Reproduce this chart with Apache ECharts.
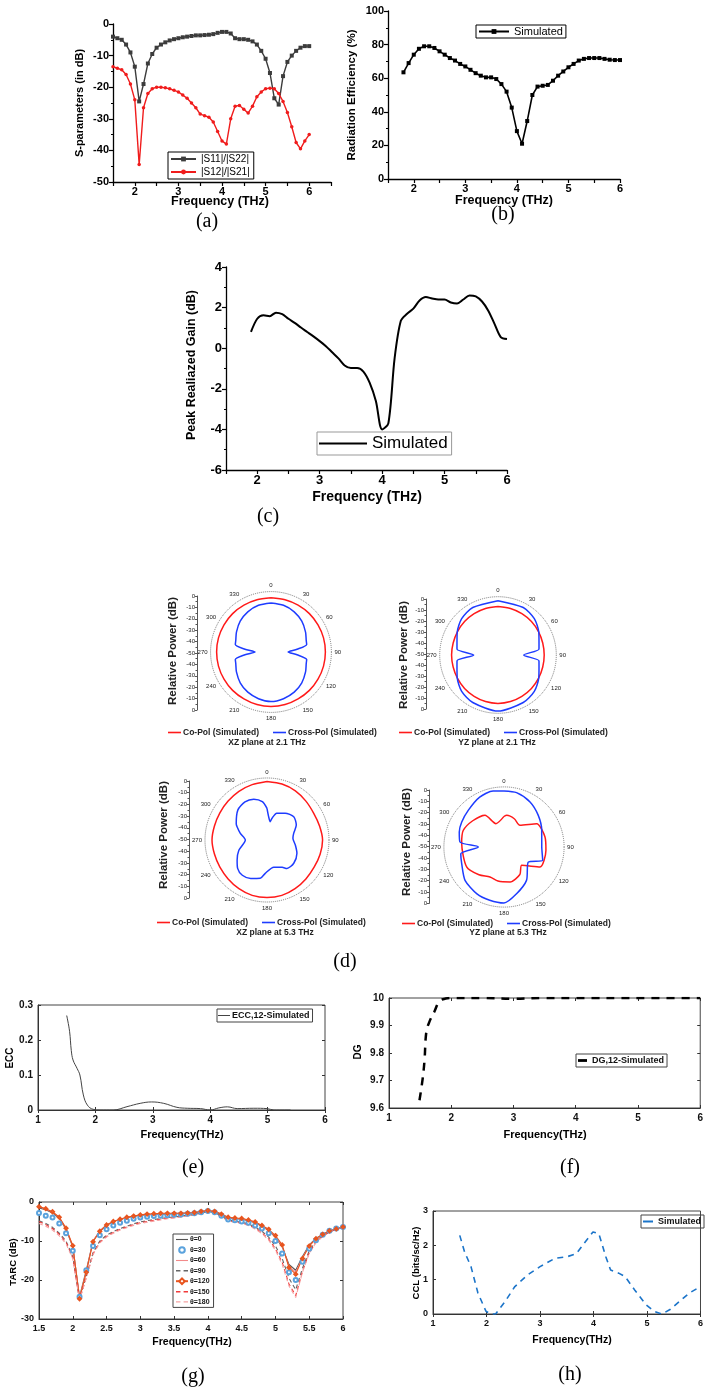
<!DOCTYPE html>
<html>
<head>
<meta charset="utf-8">
<script src="https://cdn.jsdelivr.net/npm/echarts@6/dist/echarts.min.js"></script>
<style>
html, body { margin: 0; padding: 0; background: #fff; }
#fig { width: 706px; height: 1387px; }
</style>
</head>
<body>
<div id="fig"></div>
<script>
// (a) S-parameters
const freqA = [1.5,1.6,1.7,1.8,1.9,2.0,2.1,2.2,2.3,2.4,2.5,2.6,2.7,2.8,2.9,3.0,3.1,3.2,3.3,3.4,3.5,3.6,3.7,3.8,3.9,4.0,4.1,4.2,4.3,4.4,4.5,4.6,4.7,4.8,4.9,5.0,5.1,5.2,5.3,5.4,5.5,5.6,5.7,5.8,5.9,6.0];
const s11 = [-4,-4.5,-5,-6.5,-9,-13.5,-24.5,-19,-12.5,-9.5,-7.5,-6.5,-5.8,-5.2,-4.8,-4.5,-4.2,-4,-3.8,-3.6,-3.6,-3.5,-3.4,-3.2,-2.8,-2.5,-2.5,-3,-4.5,-4.8,-4.8,-5,-5.5,-6.5,-8.5,-11,-15.5,-23.5,-25.5,-16.5,-12,-10,-8.5,-7.5,-7,-7];
const s12 = [-13.5,-14,-14.5,-16,-19,-24,-44.5,-26.5,-22,-20.5,-20,-20,-20.2,-20.5,-21,-21.5,-22.5,-23.5,-25,-26.5,-28.5,-29,-29.5,-31,-34,-37,-38,-30,-26,-25.8,-27,-28.2,-26,-23,-21.5,-20.5,-20.3,-20.5,-22,-24.5,-28,-32.5,-37.5,-39.5,-37,-35];
const ticksA = [2, 3, 4, 5, 6];

// (b) radiation efficiency
const freqB = [1.8,1.9,2.0,2.1,2.2,2.3,2.4,2.5,2.6,2.7,2.8,2.9,3.0,3.1,3.2,3.3,3.4,3.5,3.6,3.7,3.8,3.9,4.0,4.1,4.2,4.3,4.4,4.5,4.6,4.7,4.8,4.9,5.0,5.1,5.2,5.3,5.4,5.5,5.6,5.7,5.8,5.9,6.0];
const effB = [63.5,69,74,77.5,79,79,78,76,74,72,70.5,68.5,67,65,63,61.5,60.5,60.5,59.5,56.5,52,42.5,28.5,21,34.5,50,55,55.5,56,58.5,61.5,64,66.5,68.5,70.5,71.5,72,72,72,71.5,71,70.8,70.8];

// (c) peak realized gain
const freqC = [1.9,2.0,2.1,2.2,2.3,2.4,2.5,2.6,2.7,2.8,2.9,3.0,3.1,3.2,3.3,3.4,3.5,3.6,3.7,3.8,3.9,4.0,4.1,4.2,4.3,4.4,4.5,4.6,4.7,4.8,4.9,5.0,5.1,5.2,5.3,5.4,5.5,5.6,5.7,5.8,5.9,6.0];
const gainC = [0.8,1.45,1.62,1.58,1.75,1.68,1.45,1.25,1.02,0.8,0.58,0.35,0.1,-0.2,-0.5,-0.85,-0.98,-0.98,-1.15,-1.7,-2.6,-4.0,-3.7,-0.5,1.35,1.7,1.95,2.35,2.52,2.45,2.4,2.4,2.25,2.2,2.4,2.6,2.55,2.3,1.85,1.2,0.55,0.45];

// (d) radiation patterns (angle in deg, value in dB)
const angleTicks = [0,30,60,90,120,150,180,210,240,270,300,330];
const ang15 = [0,15,30,45,60,75,90,105,120,135,150,165,180,195,210,225,240,255,270,285,300,315,330,345,360];
const xz21Co = [-2.5,-2.5,-2.5,-2.4,-2.4,-2.3,-2.3,-2.3,-2.4,-2.4,-2.5,-2.3,-2.2,-2.3,-2.5,-2.4,-2.4,-2.3,-2.3,-2.3,-2.4,-2.4,-2.5,-2.5,-2.5];
const xz21CrossAng = [0,15,30,45,60,72,78,84,90,96,102,108,120,135,150,165,180,195,210,225,240,252,258,264,270,276,282,288,300,315,330,345,360];
const xz21Cross = [-7,-7.6,-9.3,-11.8,-15,-17.5,-18,-27,-35,-27,-18,-17.5,-15,-11.8,-9.3,-7.6,-6.5,-7.6,-9.3,-11.8,-15,-17.5,-18,-27,-36,-27,-18,-17.5,-15,-11.8,-9.3,-7.6,-7];
const yz21Co = [-6,-6.2,-6.6,-7,-7.5,-7.9,-8,-7.9,-7.5,-7,-6.6,-6.2,-6,-6.2,-6.6,-7,-7.5,-7.8,-7.8,-7.8,-7.5,-7,-6.6,-6.2,-6];
const yz21CrossAng = [0,28,45,61,75,82,90,98,105,119,135,152,180,208,225,241,255,262,270,278,285,299,315,332,360];
const yz21Cross = [-0.6,-1.1,-3.3,-7.6,-11.4,-12.4,-26.6,-12.4,-11.4,-7.6,-3.3,-1.1,1,-1.1,-3.3,-7.6,-11.4,-12.4,-27.9,-12.4,-11.4,-7.6,-3.3,-1.1,-0.6];
const xz53Co = [0,-0.5,-1.5,-3,-4,-3.5,-2.5,-3,-3.5,-3,-2,-1,-0.8,-1,-2,-3,-3.5,-3.5,-3,-3.5,-3.5,-3,-2,-1,0];
const xz53CrossAng = [0,4,10,13,20,34,49,63,76,86,100,114,131,145,151,166,183,190,203,215,226,236,250,270,284,294,298,316,330,342,353,360];
const xz53Cross = [-22.9,-30,-34.1,-30.9,-25.6,-22.3,-19.7,-21.9,-26.5,-27.8,-25.4,-22,-19.7,-20.3,-23.3,-26,-21.5,-16.8,-14.3,-13.2,-15.1,-19.2,-24.4,-31.5,-26.5,-22,-20.2,-14.2,-12.4,-13.4,-17,-22.9];
const yz53CoAng = [0,5,20,36,54.5,76,94.5,119,136,150,170,190,205,222,242,275.5,292,310,329,341,360];
const yz53Co = [-23,-22,-23.5,-26.2,-14.6,-12.8,-12.9,-13.7,-27.5,-22,-18.7,-19.5,-20.8,-17,-12.7,-12.5,-11.2,-14,-17.4,-28.2,-23];
const yz53CrossAng = [0,13,30,47,66,90,109,122,146,165,180,195,210,229.5,248.5,261,270,276.5,288.5,300.6,316,334,349,360];
const yz53Cross = [-0.6,-0.8,-4.1,-8.8,-13.6,-16.7,-13.9,-24.8,-14.5,-7.3,-0.6,-1.4,-2.3,-4.8,-9.9,-11.4,-27.3,-10.9,-8.4,-6.7,-4.8,-1.1,0.3,-0.6];

// (e) ECC
const eccFreq = [1.5,1.55,1.58,1.61,1.68,1.73,1.79,1.86,1.96,2.08,2.31,2.55,2.78,2.98,3.19,3.42,3.6,3.83,4.0,4.15,4.3,4.47,4.76,4.99,5.11,5.4];
const ecc = [0.27,0.225,0.17,0.143,0.119,0.1,0.043,0.014,0.002,0,0,0.0095,0.019,0.023,0.019,0.0076,0.005,0.004,0,0.006,0.009,0.004,0.005,0.004,0,0];

// (f) DG
const dgFreq = [1.49,1.54,1.57,1.6,1.65,1.73,1.81,1.91,2.02,2.5,3.0,3.5,4,5,6];
const dg = [9.628,9.705,9.772,9.877,9.914,9.951,9.988,9.998,10,10,9.997,10,10,10,10];

// (g) TARC for several theta
const tarcFreq = freqA;
const tarc0 = [-1.5,-2,-2.8,-4.2,-7,-11.5,-24.3,-17.5,-10,-7.5,-6,-5,-4.5,-4,-3.7,-3.4,-3.3,-3.2,-3.1,-3.1,-3,-3,-2.9,-2.8,-2.5,-2.3,-2.5,-3.2,-4.2,-4.3,-4.4,-4.8,-5.3,-6.2,-7.3,-9,-11.5,-16,-17.5,-14,-11,-9.3,-8.3,-7.4,-6.9,-6.4];
const tarc30 = [-2.8,-3.5,-4,-5.5,-8,-12.5,-24.3,-17.5,-11.3,-8.5,-7,-6,-5.3,-4.8,-4.3,-4,-3.8,-3.6,-3.5,-3.4,-3.3,-3.2,-3,-2.9,-2.6,-2.3,-2.6,-3.5,-4.5,-4.7,-5,-5.3,-6,-6.8,-8,-10,-13.2,-18,-20,-15.3,-12,-9.8,-8.4,-7.4,-6.8,-6.4];
const tarc60 = [-1.3,-1.8,-2.6,-4,-6.8,-11.3,-24.5,-17.8,-10,-7.4,-5.9,-5,-4.4,-4,-3.6,-3.4,-3.2,-3.1,-3,-3,-2.9,-2.9,-2.8,-2.7,-2.4,-2.2,-2.4,-3.1,-4,-4.2,-4.3,-4.7,-5.2,-6.1,-7.2,-8.8,-11.3,-16.5,-18,-14.3,-11.2,-9.4,-8.3,-7.4,-6.9,-6.4];
const tarc90 = [-4.8,-5.5,-6.5,-8,-10,-14,-25,-19,-13,-10,-8.5,-7.6,-6.8,-6.2,-5.6,-5.1,-4.8,-4.5,-4.2,-4,-3.8,-3.6,-3.4,-3.2,-2.8,-2.5,-2.7,-3.6,-4.6,-4.9,-5.2,-5.6,-6.4,-7.5,-9,-11.3,-14.5,-19.5,-22.5,-17,-12.5,-10,-8.6,-7.6,-7,-6.5];
const tarc120 = [-1.2,-1.7,-2.5,-3.9,-6.7,-11.2,-24.8,-18,-10.2,-7.5,-5.9,-5,-4.4,-3.9,-3.6,-3.3,-3.1,-3,-2.9,-2.9,-2.9,-2.9,-2.8,-2.7,-2.4,-2.2,-2.4,-3.1,-3.9,-4.1,-4.2,-4.6,-5.1,-6,-7,-8.6,-11,-16.8,-18.5,-14.5,-11.3,-9.4,-8.3,-7.4,-6.9,-6.4];
const tarc150 = [-5,-5.8,-6.8,-8.3,-10.3,-14.3,-25,-19.3,-13.3,-10.3,-8.8,-7.8,-7,-6.4,-5.8,-5.3,-5,-4.7,-4.4,-4.2,-4,-3.8,-3.5,-3.3,-2.9,-2.5,-2.8,-3.8,-4.8,-5.1,-5.4,-5.9,-6.7,-7.9,-9.5,-12,-15.5,-21,-24,-17.8,-13,-10.3,-8.8,-7.7,-7,-6.5];
const tarc180 = [-5.5,-6.2,-7.2,-8.7,-10.7,-14.6,-25.2,-19.5,-13.5,-10.5,-9,-8,-7.2,-6.6,-6,-5.5,-5.2,-4.9,-4.6,-4.3,-4.1,-3.9,-3.6,-3.4,-3,-2.6,-2.9,-3.9,-4.9,-5.2,-5.5,-6,-6.9,-8.1,-9.8,-12.4,-16,-21.5,-24.5,-18,-13.2,-10.4,-8.8,-7.7,-7,-6.5];

// (h) CCL
const cclFreq = [1.5,1.59,1.71,1.84,1.99,2.08,2.17,2.35,2.53,2.77,3.0,3.28,3.51,3.68,3.87,3.99,4.1,4.23,4.32,4.47,4.59,4.77,4.98,5.13,5.28,5.43,5.61,5.79,6.0];
const ccl = [2.29,1.81,1.38,0.61,0.08,0,0,0.37,0.8,1.14,1.38,1.62,1.67,1.76,2.15,2.39,2.34,1.67,1.28,1.19,1.09,0.7,0.27,0.08,0,0.13,0.37,0.61,0.8];

const FONT = 'Liberation Sans';
const pair = (xs, ys) => xs.map((x, i) => [x, ys[i]]);
const polarPair = (angs, vals) => angs.map((a, i) => [vals[i], a]);
const nameOnly = name => name.split('#')[0];
// legend icons drawn as thin paths (legend keeps their aspect)
const lineIcon = (w, t) => 'path://M0,0h' + w + 'v' + t + 'h-' + w + 'z';
function dashIcon(w, t, dash, gap) {
    let p = 'path://', x = 0;
    while (x < w) { const d = Math.min(dash, w - x); p += 'M' + x + ',0h' + d + 'v' + t + 'h-' + d + 'z'; x += dash + gap; }
    return p;
}

const grids = [], xAxes = [], yAxes = [], series = [], legends = [], elements = [];
const polars = [], angleAxes = [], radiusAxes = [];

function addGrid(grid, xAxis, yAxis) {
    grids.push(grid);
    const gi = grids.length - 1;
    xAxes.push(Object.assign({ gridIndex: gi }, xAxis));
    yAxes.push(Object.assign({ gridIndex: gi }, yAxis));
    return { gi: gi, xi: xAxes.length - 1, yi: yAxes.length - 1 };
}

function text(str, x, y, font, rot, color) {
    elements.push({
        type: 'text', x: x, y: y, rotation: rot || 0, silent: true,
        style: { text: str, font: font, fill: color || '#000',
            textAlign: 'center', textVerticalAlign: 'middle', align: 'center', verticalAlign: 'middle' }
    });
}

// Origin style axes (a)(b)(c)
function originAxis(min, max, interval, size, labels, minor) {
    return {
        type: 'value', min: min, max: max, interval: interval,
        axisLine: { show: true, onZero: false, lineStyle: { color: '#000', width: 1.3 } },
        axisTick: { length: 4, lineStyle: { color: '#000', width: 1.2 } },
        minorTick: { show: !!minor, splitNumber: 2, length: 2, lineStyle: { color: '#000' } },
        axisLabel: { color: '#000', fontWeight: 'bold', fontSize: size, fontFamily: FONT, margin: 4,
            formatter: v => (labels ? (labels.indexOf(v) >= 0 ? String(v) : '') : String(v)) },
        splitLine: { show: false }
    };
}

// MATLAB style axes (e)-(h)
function matAxis(min, max, interval, size) {
    return {
        type: 'value', min: min, max: max, interval: interval,
        axisLine: { show: true, onZero: false, lineStyle: { color: '#333' } },
        axisTick: { inside: true, length: 3, lineStyle: { color: '#333' } },
        axisLabel: { color: '#111', fontWeight: 'bold', fontSize: size, fontFamily: FONT, margin: 5 },
        splitLine: { show: false }
    };
}
function matMirror(gi, min, max, interval, pos, isX) {
    const ax = {
        gridIndex: gi, type: 'value', min: min, max: max, interval: interval, position: pos,
        axisLine: { show: false }, axisLabel: { show: false }, splitLine: { show: false },
        axisTick: { inside: true, length: 3, lineStyle: { color: '#333' } }
    };
    (isX ? xAxes : yAxes).push(ax);
}

// ---------- (a) ----------
let a = addGrid({ left: 113, top: 24, width: 218, height: 158 },
    originAxis(1.5, 6.5, 0.5, 11, ticksA), originAxis(-50, 0, 10, 11, null, true));
series.push({ name: '|S11|/|S22|', type: 'line', xAxisIndex: a.xi, yAxisIndex: a.yi, data: pair(freqA, s11),
    symbol: 'rect', symbolSize: 4, color: '#3c3c3c', lineStyle: { width: 1.4, color: '#3c3c3c' } });
series.push({ name: '|S12|/|S21|', type: 'line', xAxisIndex: a.xi, yAxisIndex: a.yi, data: pair(freqA, s12),
    symbol: 'circle', symbolSize: 3.5, color: '#f01c1c', lineStyle: { width: 1.4, color: '#f01c1c' } });
legends.push({ data: ['|S11|/|S22|', '|S12|/|S21|'], left: 168, top: 152, orient: 'vertical',
    itemWidth: 25, itemHeight: 6, itemGap: 3, padding: [2, 4, 2, 2], borderColor: '#000', borderWidth: 1,
    textStyle: { fontSize: 10, color: '#000', fontFamily: FONT } });
text('S-parameters (in dB)', 80, 103, 'bold 11px ' + FONT, Math.PI / 2);
text('Frequency (THz)', 220, 202, 'bold 12.5px ' + FONT);
text('(a)', 207, 222, '20px "Liberation Serif"');

// ---------- (b) ----------
let b = addGrid({ left: 388, top: 11, width: 232, height: 168 },
    originAxis(1.5, 6, 0.5, 11, ticksA), originAxis(0, 100, 20, 11, null, true));
series.push({ name: 'Simulated#b', type: 'line', xAxisIndex: b.xi, yAxisIndex: b.yi, data: pair(freqB, effB),
    symbol: 'rect', symbolSize: 4, color: '#000', lineStyle: { width: 1.6, color: '#000' } });
legends.push({ data: ['Simulated#b'], formatter: nameOnly, left: 476, top: 25,
    itemWidth: 30, itemHeight: 6, padding: [1, 3, 1, 2], borderColor: '#000', borderWidth: 1,
    textStyle: { fontSize: 11, color: '#000', fontFamily: FONT } });
text('Radiation Efficiency (%)', 352, 95, 'bold 11.5px ' + FONT, Math.PI / 2);
text('Frequency (THz)', 504, 201, 'bold 12.5px ' + FONT);
text('(b)', 503, 215, '20px "Liberation Serif"');

// ---------- (c) ----------
let c = addGrid({ left: 226, top: 267, width: 281, height: 203 },
    originAxis(1.5, 6, 0.5, 13, ticksA), originAxis(-6, 4, 2, 13, null, true));
series.push({ name: 'Simulated#c', type: 'line', xAxisIndex: c.xi, yAxisIndex: c.yi, data: pair(freqC, gainC),
    symbol: 'none', smooth: 0.3, color: '#000', lineStyle: { width: 2, color: '#000' } });
legends.push({ data: [{ name: 'Simulated#c', icon: lineIcon(48, 2.2) }], formatter: nameOnly, left: 317, top: 432,
    itemWidth: 48, itemHeight: 10, padding: [3, 4, 3, 2], borderColor: '#999', borderWidth: 1,
    textStyle: { fontSize: 17, color: '#000', fontFamily: FONT } });
text('Peak Realiazed Gain (dB)', 192, 365, 'bold 12.5px ' + FONT, Math.PI / 2);
text('Frequency (THz)', 367, 497, 'bold 14px ' + FONT);
text('(c)', 268, 517, '20px "Liberation Serif"');

// ---------- (d) polar plots ----------
const RED = '#ff1a1a', BLUE = '#1e3cff';
function polarPlot(key, cx, cy, scale, scaleTop, scaleLeft, curves, ylab, legendLeft, legendTop, title) {
    const maxDb = 3;
    polars.push({ center: [cx, cy], radius: scale * (maxDb + 50) / 50 });
    const pi = polars.length - 1;
    angleAxes.push({ polarIndex: pi, type: 'value', min: 0, max: 360, interval: 30, startAngle: 90, clockwise: true,
        axisLine: { lineStyle: { color: '#777', type: 'dotted', width: 1 } },
        axisTick: { show: false }, splitLine: { show: false },
        axisLabel: { fontSize: 6, color: '#222', margin: 3, fontFamily: FONT,
            formatter: v => (angleTicks.indexOf(v) >= 0 ? String(v) : '') } });
    radiusAxes.push({ polarIndex: pi, type: 'value', min: -50, max: maxDb,
        axisLine: { show: false }, axisTick: { show: false }, axisLabel: { show: false }, splitLine: { show: false } });
    curves.forEach(cv => {
        series.push({ name: cv.name + '#' + key, type: 'line', coordinateSystem: 'polar', polarIndex: pi,
            data: polarPair(cv.ang, cv.val), symbol: 'none', smooth: 0.25, color: cv.color,
            lineStyle: { width: 1.5, color: cv.color } });
    });
    // mirrored radial scale at the left
    addGrid({ left: scaleLeft, top: scaleTop, width: 1, height: scale * 2 },
        { type: 'value', show: false },
        { type: 'value', min: -50, max: 50, interval: 10,
          axisLine: { show: true, lineStyle: { color: '#555' } },
          axisTick: { length: 2, lineStyle: { color: '#555' } },
          minorTick: { show: true, splitNumber: 2, length: 1.5 },
          splitLine: { show: false },
          axisLabel: { fontSize: 6, color: '#222', margin: 2, fontFamily: FONT, formatter: v => String(Math.abs(v) - 50) } });
    text('Relative Power (dB)', ylab[0], ylab[1], 'bold 11.5px ' + FONT, Math.PI / 2, '#222');
    legends.push({ data: [{ name: 'Co-Pol (Simulated)#' + key, icon: lineIcon(13, 1.6) },
                          { name: 'Cross-Pol (Simulated)#' + key, icon: lineIcon(13, 1.6) }], formatter: nameOnly,
        left: legendLeft, top: legendTop, itemWidth: 13, itemHeight: 8, itemGap: 14, padding: 0,
        textStyle: { fontSize: 8.5, fontWeight: 'bold', color: '#222', fontFamily: FONT, padding: [0, 0, 0, -3] } });
    text(title[0], title[1], title[2], 'bold 8.5px ' + FONT, 0, '#222');
}
polarPlot('xz21', 271, 652, 57, 596, 197,
    [{ name: 'Co-Pol (Simulated)', ang: ang15, val: xz21Co, color: RED },
     { name: 'Cross-Pol (Simulated)', ang: xz21CrossAng, val: xz21Cross, color: BLUE }],
    [173, 651], 168, 728, ['XZ plane at 2.1 THz', 267, 743]);
polarPlot('yz21', 498, 655, 55, 599, 426,
    [{ name: 'Co-Pol (Simulated)', ang: ang15, val: yz21Co, color: RED },
     { name: 'Cross-Pol (Simulated)', ang: yz21CrossAng, val: yz21Cross, color: BLUE }],
    [404, 655], 399, 728, ['YZ plane at 2.1 THz', 497, 743]);
polarPlot('xz53', 267, 840, 58.5, 781, 189,
    [{ name: 'Co-Pol (Simulated)', ang: ang15, val: xz53Co, color: RED },
     { name: 'Cross-Pol (Simulated)', ang: xz53CrossAng, val: xz53Cross, color: BLUE }],
    [164, 835], 157, 918, ['XZ plane at 5.3 THz', 275, 933]);
polarPlot('yz53', 504, 847, 56.7, 790, 429,
    [{ name: 'Co-Pol (Simulated)', ang: yz53CoAng, val: yz53Co, color: RED },
     { name: 'Cross-Pol (Simulated)', ang: yz53CrossAng, val: yz53Cross, color: BLUE }],
    [407, 842], 402, 919, ['YZ plane at 5.3 THz', 508, 933]);
text('(d)', 345, 962, '20px "Liberation Serif"');

// ---------- (e) ECC ----------
let e = addGrid({ left: 38, top: 1005, width: 287, height: 105, show: true, borderColor: '#444', borderWidth: 1 },
    matAxis(1, 6, 1, 10), matAxis(0, 0.3, 0.1, 10));
matMirror(e.gi, 1, 6, 1, 'top', true); matMirror(e.gi, 0, 0.3, 0.1, 'right', false);
series.push({ name: 'ECC,12-Simulated', type: 'line', xAxisIndex: e.xi, yAxisIndex: e.yi, data: pair(eccFreq, ecc),
    symbol: 'none', smooth: 0.4, color: '#444', lineStyle: { width: 1, color: '#444' } });
legends.push({ data: [{ name: 'ECC,12-Simulated', icon: lineIcon(12, 1) }], left: 217, top: 1009, itemWidth: 12, itemHeight: 6,
    padding: [2, 3, 2, 1], borderColor: '#444', borderWidth: 1,
    textStyle: { fontSize: 9, fontWeight: 'bold', color: '#111', fontFamily: FONT, padding: [0, 0, 0, -3] } });
text('ECC', 10, 1058, 'bold 10px ' + FONT, Math.PI / 2);
text('Frequency(THz)', 182, 1135, 'bold 11px ' + FONT);
text('(e)', 193, 1168, '20px "Liberation Serif"');

// ---------- (f) DG ----------
let f = addGrid({ left: 389, top: 998, width: 314, height: 110, show: true, borderColor: '#444', borderWidth: 1 },
    matAxis(1, 6, 1, 10), matAxis(9.6, 10, 0.1, 10));
matMirror(f.gi, 1, 6, 1, 'top', true); matMirror(f.gi, 9.6, 10, 0.1, 'right', false);
series.push({ name: 'DG,12-Simulated', type: 'line', xAxisIndex: f.xi, yAxisIndex: f.yi, data: pair(dgFreq, dg),
    symbol: 'none', smooth: 0.4, color: '#000', lineStyle: { width: 2.5, color: '#000', type: [8, 7] } });
legends.push({ data: [{ name: 'DG,12-Simulated', icon: lineIcon(8, 2.5) }], left: 576, top: 1054, itemWidth: 9, itemHeight: 6,
    padding: [2, 3, 2, 2], borderColor: '#444', borderWidth: 1,
    textStyle: { fontSize: 9, fontWeight: 'bold', color: '#111', fontFamily: FONT } });
text('DG', 358, 1052, 'bold 10px ' + FONT, Math.PI / 2);
text('Frequency(THz)', 545, 1135, 'bold 11px ' + FONT);
text('(f)', 570, 1168, '20px "Liberation Serif"');

// ---------- (g) TARC ----------
let g = addGrid({ left: 39, top: 1202, width: 304, height: 117, show: true, borderColor: '#444', borderWidth: 1 },
    matAxis(1.5, 6, 0.5, 9), matAxis(-30, 0, 10, 9));
matMirror(g.gi, 1.5, 6, 0.5, 'top', true); matMirror(g.gi, -30, 0, 10, 'right', false);
const tarcSets = [
    { name: '\u03b8=0', data: tarc0, color: '#555', dashed: false, symbol: 'none' },
    { name: '\u03b8=30', data: tarc30, color: '#5aa2dd', dashed: false, symbol: 'emptyCircle', noLine: true },
    { name: '\u03b8=60', data: tarc60, color: '#f28a8a', dashed: false, symbol: 'none' },
    { name: '\u03b8=90', data: tarc90, color: '#666', dashed: true, symbol: 'none' },
    { name: '\u03b8=120', data: tarc120, color: '#e8541e', dashed: false, symbol: 'emptyDiamond' },
    { name: '\u03b8=150', data: tarc150, color: '#f23a3a', dashed: true, symbol: 'none' },
    { name: '\u03b8=180', data: tarc180, color: '#f5a3a3', dashed: true, symbol: 'none' }
];
tarcSets.forEach(s => {
    series.push({ name: s.name, type: 'line', xAxisIndex: g.xi, yAxisIndex: g.yi, data: pair(tarcFreq, s.data),
        symbol: s.symbol, symbolSize: s.noLine ? 4 : 3, color: s.color,
        lineStyle: { width: 1.1, color: s.color, type: s.dashed ? [4, 3] : 'solid', opacity: s.noLine ? 0 : 1 } });
});
legends.push({ data: tarcSets.map(s => (s.symbol !== 'none' ? s.name :
        { name: s.name, icon: s.dashed ? dashIcon(12, 1.1, 3.5, 2.5) : lineIcon(12, 1.1) })),
    left: 173, top: 1234, orient: 'vertical', itemWidth: 12, itemHeight: 7,
    itemGap: 3.2, padding: [2, 4, 2, 2], borderColor: '#444', borderWidth: 1, backgroundColor: '#fff',
    textStyle: { fontSize: 7, fontWeight: 'bold', color: '#111', fontFamily: FONT, padding: [0, 0, 0, -3] } });
text('TARC (dB)', 13, 1262, 'bold 9.5px ' + FONT, Math.PI / 2);
text('Frequency(THz)', 192, 1342, 'bold 10.5px ' + FONT);
text('(g)', 193, 1377, '20px "Liberation Serif"');

// ---------- (h) CCL ----------
let h = addGrid({ left: 433, top: 1211, width: 280, height: 103, show: true, borderColor: '#444', borderWidth: 1 },
    matAxis(1, 6, 1, 9), matAxis(0, 3, 1, 9));
matMirror(h.gi, 1, 6, 1, 'top', true);
series.push({ name: 'Simulated#h', type: 'line', xAxisIndex: h.xi, yAxisIndex: h.yi, data: pair(cclFreq, ccl),
    symbol: 'none', color: '#1b74c9', lineStyle: { width: 1.6, color: '#1b74c9', type: [6, 5] } });
legends.push({ data: [{ name: 'Simulated#h', icon: lineIcon(9, 1.8) }], formatter: nameOnly, left: 641, top: 1215,
    itemWidth: 10, itemHeight: 6, padding: [2, 3, 2, 2], borderColor: '#444', borderWidth: 1,
    textStyle: { fontSize: 9, fontWeight: 'bold', color: '#111', fontFamily: FONT } });
text('CCL (bits/sc/Hz)', 416, 1263, 'bold 9.5px ' + FONT, Math.PI / 2);
text('Frequency(THz)', 572, 1340, 'bold 10.5px ' + FONT);
text('(h)', 570, 1375, '20px "Liberation Serif"');

const chart = echarts.init(document.getElementById('fig'));
chart.setOption({
    animation: false,
    backgroundColor: '#fff',
    textStyle: { fontFamily: FONT },
    grid: grids, xAxis: xAxes, yAxis: yAxes,
    polar: polars, angleAxis: angleAxes, radiusAxis: radiusAxes,
    legend: legends,
    series: series,
    graphic: { elements: elements }
});
</script>
</body>
</html>
